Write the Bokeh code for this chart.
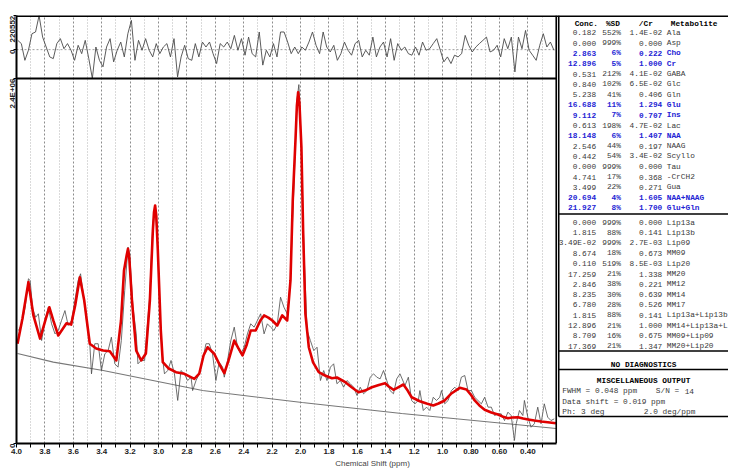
import math
from bokeh.plotting import figure
from bokeh.models import Range1d, FixedTicker, Span, ColumnDataSource
from bokeh.embed import file_html
from bokeh.resources import INLINE
from bokeh.core.properties import value

# ---------------- spectrum data (ppm, intensity in units of 1e6) ----------------
fit_ppm = [3.993, 3.958, 3.916, 3.881, 3.834, 3.797, 3.769, 3.741, 3.706, 3.648, 3.615, 3.587,
           3.554, 3.523, 3.484, 3.439, 3.390, 3.343, 3.297, 3.264, 3.243, 3.224, 3.215, 3.206, 3.187,
           3.157, 3.122, 3.089, 3.061, 3.040, 3.032, 3.024, 3.016, 3.005, 2.984, 2.970, 2.928,
           2.877, 2.818, 2.748, 2.713, 2.683, 2.655, 2.608, 2.573, 2.537, 2.507, 2.467, 2.437,
           2.409, 2.381, 2.351, 2.316, 2.283, 2.257, 2.227, 2.199, 2.164, 2.129, 2.094, 2.071,
           2.055, 2.036, 2.026, 2.017, 2.008, 1.994, 1.982, 1.966, 1.942, 1.912, 1.872, 1.828,
           1.779, 1.744, 1.685, 1.638, 1.592, 1.547, 1.498, 1.449, 1.405, 1.379, 1.346, 1.316,
           1.276, 1.246, 1.218, 1.160, 1.113, 1.066, 1.029, 0.985, 0.938, 0.879, 0.832, 0.797,
           0.774, 0.741, 0.704, 0.657, 0.610, 0.580, 0.540, 0.510, 0.470, 0.433, 0.398, 0.354,
           0.307, 0.260, 0.202]
fit_int = [0.656, 0.822, 1.061, 0.842, 0.690, 0.809, 0.896, 0.809, 0.710, 0.791, 0.782, 0.907,
           1.093, 0.940, 0.656, 0.625, 0.611, 0.607, 0.546, 0.809, 1.138, 1.240, 1.280, 1.220, 0.940,
           0.611, 0.546, 0.592, 0.940, 1.401, 1.520, 1.565, 1.500, 1.269, 0.743, 0.535, 0.493,
           0.469, 0.458, 0.425, 0.460, 0.579, 0.633, 0.590, 0.524, 0.462, 0.546, 0.677, 0.625,
           0.579, 0.644, 0.743, 0.743, 0.809, 0.842, 0.828, 0.809, 0.776, 0.842, 0.809, 1.072,
           1.598, 1.992, 2.220, 2.310, 2.240, 1.948, 1.401, 0.853, 0.633, 0.533, 0.469, 0.447,
           0.429, 0.434, 0.403, 0.368, 0.337, 0.348, 0.370, 0.385, 0.396, 0.375, 0.353, 0.368,
           0.388, 0.348, 0.304, 0.278, 0.263, 0.250, 0.263, 0.283, 0.329, 0.366, 0.355, 0.316,
           0.283, 0.250, 0.222, 0.204, 0.191, 0.178, 0.166, 0.171, 0.173, 0.164, 0.158, 0.151,
           0.145, 0.140, 0.133]

data_ppm = [3.986, 3.963, 3.939, 3.916, 3.904, 3.886, 3.865, 3.846, 3.823, 3.799, 3.776, 3.753,
            3.729, 3.706, 3.683, 3.659, 3.636, 3.612, 3.589, 3.566, 3.549, 3.530, 3.507, 3.484,
            3.472, 3.449, 3.425, 3.402, 3.378, 3.355, 3.332, 3.308, 3.285, 3.262, 3.238, 3.215,
            3.203, 3.180, 3.157, 3.145, 3.122, 3.098, 3.087, 3.063, 3.040, 3.024, 3.005, 2.993,
            2.970, 2.958, 2.935, 2.912, 2.888, 2.865, 2.842, 2.818, 2.795, 2.771, 2.760, 2.736,
            2.713, 2.690, 2.666, 2.643, 2.620, 2.596, 2.573, 2.549, 2.537, 2.514, 2.491, 2.467,
            2.444, 2.421, 2.397, 2.374, 2.351, 2.327, 2.304, 2.281, 2.257, 2.234, 2.211, 2.187,
            2.164, 2.141, 2.117, 2.094, 2.071, 2.059, 2.045, 2.026, 2.012, 1.994, 1.977, 1.954,
            1.931, 1.907, 1.884, 1.860, 1.837, 1.814, 1.790, 1.767, 1.744, 1.720, 1.697, 1.673,
            1.650, 1.626, 1.603, 1.580, 1.556, 1.533, 1.510, 1.486, 1.463, 1.440, 1.416, 1.393,
            1.370, 1.346, 1.323, 1.300, 1.265, 1.241, 1.218, 1.195, 1.171, 1.160, 1.136, 1.113,
            1.090, 1.066, 1.043, 1.020, 1.008, 0.985, 0.961, 0.938, 0.914, 0.891, 0.868, 0.844,
            0.821, 0.797, 0.774, 0.751, 0.727, 0.704, 0.680, 0.657, 0.634, 0.610, 0.587, 0.564,
            0.540, 0.517, 0.494, 0.482, 0.459, 0.435, 0.424, 0.400, 0.377, 0.354, 0.330, 0.307,
            0.284, 0.260, 0.237, 0.214]
data_int = [0.743, 0.787, 0.896, 1.083, 1.072, 0.886, 0.830, 0.853, 0.677, 0.809, 0.896, 0.787,
            0.721, 0.743, 0.809, 0.874, 0.776, 0.809, 0.940, 1.072, 1.116, 0.984, 0.809, 0.656,
            0.458, 0.656, 0.656, 0.480, 0.590, 0.611, 0.699, 0.524, 0.502, 0.677, 1.006, 1.291,
            1.247, 0.896, 0.721, 0.524, 0.546, 0.546, 0.677, 0.962, 1.445, 1.565, 1.291, 0.896,
            0.546, 0.458, 0.480, 0.546, 0.458, 0.283, 0.480, 0.458, 0.414, 0.436, 0.348, 0.414,
            0.458, 0.546, 0.656, 0.656, 0.590, 0.414, 0.535, 0.502, 0.436, 0.546, 0.677, 0.765,
            0.633, 0.590, 0.633, 0.721, 0.787, 0.765, 0.809, 0.853, 0.721, 0.787, 0.765, 0.743,
            0.787, 0.962, 0.896, 0.853, 1.072, 1.400, 1.729, 2.255, 2.360, 1.948, 1.291, 0.743,
            0.677, 0.611, 0.633, 0.414, 0.480, 0.414, 0.502, 0.524, 0.393, 0.414, 0.370, 0.414,
            0.393, 0.370, 0.316, 0.370, 0.327, 0.348, 0.436, 0.458, 0.436, 0.425, 0.480, 0.414,
            0.348, 0.327, 0.425, 0.458, 0.381, 0.436, 0.283, 0.261, 0.283, 0.348, 0.217, 0.239,
            0.217, 0.304, 0.283, 0.304, 0.348, 0.261, 0.283, 0.348, 0.370, 0.348, 0.436, 0.447,
            0.348, 0.348, 0.304, 0.283, 0.261, 0.304, 0.239, 0.239, 0.184, 0.195, 0.195, 0.151,
            0.206, 0.184, 0.020, 0.130, 0.217, 0.184, 0.283, 0.173, 0.107, 0.130, 0.239, 0.130,
            0.261, 0.173, 0.151, 0.162]

base_ppm = [3.993, 3.741, 3.390, 3.040, 2.690, 1.989, 1.288, 0.200]
base_int = [0.592, 0.535, 0.480, 0.414, 0.348, 0.270, 0.197, 0.099]

# residual (units of 1e3)
res_ppm = [3.991, 3.966, 3.941, 3.916, 3.891, 3.866, 3.841, 3.816, 3.791, 3.766, 3.741, 3.716,
           3.691, 3.666, 3.641, 3.616, 3.591, 3.566, 3.541, 3.516, 3.491, 3.466, 3.441, 3.416,
           3.391, 3.366, 3.341, 3.316, 3.291, 3.266, 3.241, 3.216, 3.191, 3.166, 3.141, 3.116,
           3.091, 3.066, 3.041, 3.016, 2.991, 2.966, 2.941, 2.916, 2.891, 2.866, 2.841, 2.816,
           2.791, 2.766, 2.741, 2.716, 2.691, 2.666, 2.641, 2.616, 2.591, 2.566, 2.541, 2.516,
           2.491, 2.466, 2.441, 2.416, 2.391, 2.366, 2.341, 2.316, 2.291, 2.266, 2.241, 2.216,
           2.191, 2.166, 2.141, 2.116, 2.091, 2.066, 2.041, 2.016, 1.991, 1.966, 1.941, 1.916,
           1.891, 1.866, 1.841, 1.816, 1.791, 1.766, 1.741, 1.716, 1.691, 1.666, 1.641, 1.616,
           1.591, 1.566, 1.541, 1.516, 1.491, 1.466, 1.441, 1.416, 1.391, 1.366, 1.341, 1.316,
           1.291, 1.266, 1.241, 1.216, 1.191, 1.166, 1.141, 1.116, 1.091, 1.066, 1.041, 1.016,
           0.991, 0.966, 0.941, 0.916, 0.891, 0.866, 0.841, 0.816, 0.791, 0.766, 0.741, 0.716,
           0.691, 0.666, 0.641, 0.616, 0.591, 0.566, 0.541, 0.516, 0.491, 0.466, 0.441, 0.416,
           0.391, 0.366, 0.341, 0.316, 0.291, 0.266, 0.241, 0.216]
res_val = [60, 39, -69, -4, 103, 114, 220, 81, 17, -47, -58, 39, 71, 6, 39, -4, -69, 28, -26, 60,
           -58, -186, 17, -69, -111, 17, 71, -79, -4, 49, -47, 103, 189, -69, 60, -4, 71, -4, -47, 39,
           -26, 17, 39, -47, 71, -176, -47, 28, -58, -69, 39, -47, 49, 17, 49, -26, -90, 39, 17, 49,
           6, 92, -4, 71, -36, 81, -26, -47, 114, -100, -4, -47, 39, -47, 114, 114, 49, -26, 17, -26,
           17, -4, 49, 114, 28, -26, 114, 17, -15, 28, -69, -26, 49, -4, -36, 39, 60, -47, -4, -36,
           81, -47, 17, 49, -47, 71, -69, 39, -4, 17, -26, -36, 17, -36, 49, -4, 6, 39, 71, -4,
           -79, -47, -90, -36, -47, -26, 92, 28, -15, 17, 39, 60, 81, -15, -4, 28, -47, 71, 6, 81,
           -144, 81, 6, 124, -4, -36, -69, 28, 103, 17, 49, -4]
res_max_label = "220552"
res_max = 220.552
main_max = 2.4

x_major = [4.0, 3.8, 3.6, 3.4, 3.2, 3.0, 2.8, 2.6, 2.4, 2.2, 2.0, 1.8, 1.6, 1.4, 1.2, 1.0, 0.8, 0.6, 0.4]
x_labels = ["4.0", "3.8", "3.6", "3.4", "3.2", "3.0", "2.8", "2.6", "2.4", "2.2", "2.0", "1.8",
            "1.6", "1.4", "1.2", "1.0", "0.80", "0.60", "0.40"]
x_minor = [3.9, 3.7, 3.5, 3.3, 3.1, 2.9, 2.7, 2.5, 2.3, 2.1, 1.9, 1.7, 1.5, 1.3, 1.1, 0.9, 0.7, 0.5, 0.3]

# ---------------- table data ----------------
met_conc = ["0.182", "0.000", "2.863", "12.896", "0.531", "0.840", "5.238", "16.688", "9.112",
            "0.613", "18.148", "2.546", "0.442", "0.000", "4.741", "3.499", "20.694", "21.927"]
met_sd = ["552%", "999%", "6%", "5%", "212%", "102%", "41%", "11%", "7%", "198%", "6%", "44%",
          "54%", "999%", "17%", "22%", "4%", "8%"]
met_cr = ["1.4E-02", "0.000", "0.222", "1.000", "4.1E-02", "6.5E-02", "0.406", "1.294", "0.707",
          "4.7E-02", "1.407", "0.197", "3.4E-02", "0.000", "0.368", "0.271", "1.605", "1.700"]
met_name = ["Ala", "Asp", "Cho", "Cr", "GABA", "Glc", "Gln", "Glu", "Ins", "Lac", "NAA", "NAAG",
            "Scyllo", "Tau", "-CrCH2", "Gua", "NAA+NAAG", "Glu+Gln"]
met_bold = ["Cho", "Cr", "Glu", "Ins", "NAA", "NAA+NAAG", "Glu+Gln"]

lip_conc = ["0.000", "1.815", "3.49E-02", "8.674", "0.110", "17.259", "2.846", "8.235", "6.780",
            "1.815", "12.896", "8.709", "17.369"]
lip_sd = ["999%", "88%", "999%", "18%", "519%", "21%", "38%", "30%", "28%", "88%", "21%", "16%", "21%"]
lip_cr = ["0.000", "0.141", "2.7E-03", "0.673", "8.5E-03", "1.338", "0.221", "0.639", "0.526",
          "0.141", "1.000", "0.675", "1.347"]
lip_name = ["Lip13a", "Lip13b", "Lip09", "MM09", "Lip20", "MM20", "MM12", "MM14", "MM17",
            "Lip13a+Lip13b", "MM14+Lip13a+L", "MM09+Lip09", "MM20+Lip20"]

header = ["Conc.", "%SD", "/Cr", "Metabolite"]
diag_text = "NO DIAGNOSTICS"
misc_title = "MISCELLANEOUS OUTPUT"
misc_parts = [["FWHM = 0.048 ppm", "S/N =", "14"], ["Data shift = 0.019 ppm"],
              ["Ph:", "3 deg", "2.0 deg/ppm"]]

# ---------------- layout (page pixel coordinates; the page has no margin) ----------------
W, H = 728, 471
LEFT_B, TOP_B, BOT_B = 13, 15, 28
FX0, FX1 = LEFT_B, W
FY0, FY1 = TOP_B, H - BOT_B
SX1 = 555.0          # page x of 0.2 ppm
DIV = 78.0           # page y of the divider between residual and spectrum

ppm_per_px = (4.0 - 0.2) / (SX1 - FX0)
x_end = 0.2 - (FX1 - SX1) * ppm_per_px
main_per_px = main_max / (FY1 - DIV)
y_end = main_max + (DIV - FY0) * main_per_px
res_min = min(res_val) - 0.5
res_per_px = (res_max - res_min) / (DIV - FY0)
res_start = res_min - (FY1 - DIV) * res_per_px
y_res0 = (0 - res_start) / (res_max - res_start) * y_end
y_top_tick = y_end * 0.9995

RED = "#e00000"
DARK = "#3a3a3a"
BLUE = "#2424d4"
SANS = "Liberation Sans"
MONO = "Liberation Mono"
FS = "7.8px"

p = figure(width=W, height=H, x_range=Range1d(4.0, x_end), y_range=Range1d(0, y_end),
           output_backend="svg", toolbar_location=None,
           min_border_left=LEFT_B, min_border_right=0, min_border_top=TOP_B, min_border_bottom=BOT_B)
p.title.visible = False
p.extra_y_ranges = {"res": Range1d(res_start, res_max), "pgy": Range1d(FY1, FY0)}
p.extra_x_ranges = {"pgx": Range1d(FX0, FX1)}
p.background_fill_color = "white"
p.border_fill_color = "white"
p.outline_line_color = None

xt = FixedTicker(ticks=x_major, minor_ticks=x_minor)
p.xaxis.ticker = xt
p.xaxis.bounds = (0.2, 4.0)
p.xaxis.major_label_overrides = {t: l for t, l in zip(x_major, x_labels)}
p.xaxis.axis_label = "Chemical Shift (ppm)"
p.xaxis.axis_label_text_font = SANS
p.xaxis.axis_label_text_font_style = "normal"
p.xaxis.axis_label_text_font_size = "8px"
p.xaxis.axis_label_standoff = 2
p.xaxis.major_label_text_font = SANS
p.xaxis.major_label_text_font_style = "bold"
p.xaxis.major_label_text_font_size = "8px"
p.xaxis.major_label_text_color = "#222222"
p.xaxis.major_label_standoff = 1
p.xaxis.major_tick_in = 0
p.xaxis.major_tick_out = 4
p.xaxis.minor_tick_in = 0
p.xaxis.minor_tick_out = 4
p.xaxis.axis_line_width = 2
p.xaxis.major_tick_line_color = "black"
p.xaxis.minor_tick_line_color = "black"

yticks = [0, main_max, round(y_res0, 6), round(y_top_tick, 6)]
p.yaxis.ticker = FixedTicker(ticks=yticks, minor_ticks=[])
p.yaxis.major_label_overrides = {yticks[0]: "0", yticks[1]: "2.4E+06", yticks[2]: "0",
                                 yticks[3]: res_max_label}
p.yaxis.major_label_orientation = math.pi / 2
p.yaxis.major_label_text_font = SANS
p.yaxis.major_label_text_font_style = "bold"
p.yaxis.major_label_text_font_size = "8px"
p.yaxis.major_label_text_color = "#222222"
p.yaxis.major_label_standoff = 1
p.yaxis.major_tick_in = 0
p.yaxis.major_tick_out = 3
p.yaxis.axis_line_width = 2

p.xgrid.ticker = xt
p.xgrid.grid_line_color = "#8c8c8c"
p.xgrid.grid_line_dash = "2 2"
p.xgrid.grid_line_width = 1
p.xgrid.minor_grid_line_color = "#b4b4b4"
p.xgrid.minor_grid_line_dash = "1 2"
p.ygrid.visible = False

# residual panel
p.segment(x0=[4.0], y0=[0], x1=[0.2], y1=[0], y_range_name="res", line_color="#a0a0a0",
          line_dash="2 2", line_width=1)
p.line(res_ppm, res_val, y_range_name="res", line_color="#4a4a4a", line_width=0.9)

# spectrum
p.line(base_ppm, base_int, line_color="#777777", line_width=1.1)
p.line(data_ppm, data_int, line_color="#4a4a4a", line_width=0.8)
p.line(fit_ppm, fit_int, line_color=RED, line_width=2.6, line_join="round")

# frame lines
p.add_layout(Span(location=FY0 + 0.5, dimension="width", y_range_name="pgy",
                  line_color="black", line_width=2))
p.segment(x0=[4.0], y0=[main_max], x1=[0.2], y1=[main_max], line_color="black", line_width=2)
p.segment(x0=[SX1], y0=[FY0], x1=[SX1], y1=[FY1], x_range_name="pgx", y_range_name="pgy",
          line_color="black", line_width=1.6)

# ---------------- table (page coordinates) ----------------
BOX_L, BOX_R = 557.5, FX1
seps = [213.5, 350.5, 369.0, 416.0]
p.segment(x0=[BOX_L] * len(seps), y0=seps, x1=[BOX_R] * len(seps), y1=seps,
          x_range_name="pgx", y_range_name="pgy", line_color="black", line_width=1.6)
p.segment(x0=[BOX_L], y0=[FY0], x1=[BOX_L], y1=[416.0],
          x_range_name="pgx", y_range_name="pgy", line_color="black", line_width=1.6)

C_CONC, C_SD, C_CR, C_NAME = 595.0, 620.0, 661.5, 666.0


def rows(conc, sd, cr, name, y0, bold_names):
    ys = [y0 + 10.3 * i for i in range(len(conc))]
    cols = [BLUE if n in bold_names else DARK for n in name]
    sty = ["bold" if n in bold_names else "normal" for n in name]
    for xs, txt, al in ((C_CONC, conc, "right"), (C_SD, sd, "right"), (C_CR, cr, "right"),
                        (C_NAME, name, "left")):
        src = ColumnDataSource(dict(x=[xs] * len(txt), y=ys, text=txt, c=cols, s=sty))
        p.text(x="x", y="y", text="text", source=src, text_color="c", text_font_style="s",
               text_font=value(MONO), text_font_size=FS, text_align=al, text_baseline="middle",
               x_range_name="pgx", y_range_name="pgy")


hsrc = ColumnDataSource(dict(x=[597.0, 619.0, 652.0, 670.0], y=[23.0] * 4, text=header,
                             a=["right", "right", "right", "left"]))
p.text(x="x", y="y", text="text", source=hsrc, text_align="a", text_color="black",
       text_font_style="bold", text_font=value(MONO), text_font_size=FS, text_baseline="middle",
       x_range_name="pgx", y_range_name="pgy")

rows(met_conc, met_sd, met_cr, met_name, 32.3, met_bold)
rows(lip_conc, lip_sd, lip_cr, lip_name, 222.0, [])

mid = (BOX_L + 728) / 2
p.text(x=[mid, mid], y=[364.0, 380.0], text=[diag_text, misc_title], text_align="center",
       text_baseline="middle", text_color="black", text_font_style="bold",
       text_font=value(MONO), text_font_size=FS, x_range_name="pgx", y_range_name="pgy")
misc_x = [[561.0, 655.0, 684.0], [561.0], [561.0, 580.0, 643.0]]
misc_y = [390.5, 401.0, 411.5]
mx, my, mt = [], [], []
for parts, xs, yv in zip(misc_parts, misc_x, misc_y):
    for t_, x_ in zip(parts, xs):
        mx.append(x_)
        my.append(yv)
        mt.append(t_)
p.text(x=mx, y=my, text=mt, text_align="left", text_baseline="middle", text_color=DARK,
       text_font=value(MONO), text_font_size=FS, x_range_name="pgx", y_range_name="pgy")

open("out.html", "w").write(file_html(p, INLINE))
